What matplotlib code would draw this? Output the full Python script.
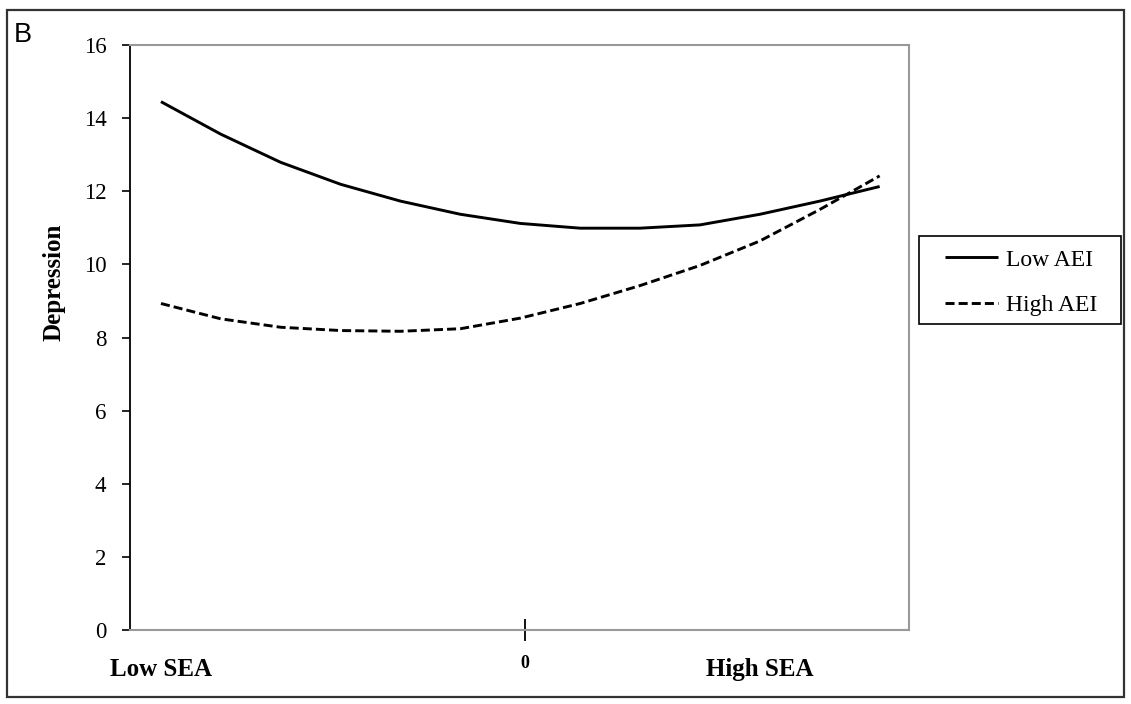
import matplotlib
matplotlib.use('Agg')
import matplotlib.pyplot as plt
from matplotlib.patches import Rectangle

# SEA levels from low to high (13 plotted points)
sea = [0, 1, 2, 3, 4, 5, 6, 7, 8, 9, 10, 11, 12]
low_aei = [14.45, 13.56, 12.79, 12.19, 11.73, 11.37, 11.12, 10.99, 10.99, 11.08, 11.37, 11.73, 12.13]
high_aei = [8.93, 8.51, 8.28, 8.19, 8.17, 8.24, 8.53, 8.93, 9.42, 9.97, 10.64, 11.50, 12.42]

x_labels = ['Low SEA', 'High SEA']
x_label_pos = [0, 10]
y_ticks = [0, 2, 4, 6, 8, 10, 12, 14, 16]

W, H = 1131, 704
fig = plt.figure(figsize=(W / 100, H / 100), dpi=100)
ax = fig.add_axes([130 / W, 1 - 630 / H, 779 / W, 585 / H])

serif = 'Liberation Serif'

l1, = ax.plot(sea, low_aei, color='black', lw=2.1, solid_capstyle='butt')
l2, = ax.plot(sea, high_aei, color='black', lw=2.1, dashes=(3.1, 1.4))

ax.set_xlim(-0.517, 12.49)
ax.set_ylim(0, 16)

# spines
for s in ['top', 'right', 'bottom']:
    ax.spines[s].set_color('#999999')
    ax.spines[s].set_linewidth(1.5)
ax.spines['left'].set_color('black')
ax.spines['left'].set_linewidth(1.3)

# y ticks
ax.set_yticks(y_ticks)
ax.set_yticklabels([str(v) for v in y_ticks], family=serif, fontsize=16.5)
ax.tick_params(axis='y', direction='out', length=6, width=1.2, pad=11, color='black')

# x: labels without marks + one crossing tick at 0
ax.set_xticks(x_label_pos)
ax.set_xticklabels(x_labels, family=serif, fontsize=18, fontweight='bold')
ax.tick_params(axis='x', which='major', length=0, pad=20)
ax.set_xticks([6.08], minor=True)
ax.set_xticklabels(['0'], minor=True, family=serif, fontsize=13, fontweight='bold')
ax.tick_params(axis='x', which='minor', direction='inout', length=16, width=1.3,
               color='black', pad=10)

fig.text(54 / W, 1 - 282.5 / H, 'Depression', rotation=90, ha='center', va='center',
         family=serif, fontsize=18, fontweight='bold')

fig.text(14 / W, 1 - 42 / H, 'B', family='Liberation Sans', fontsize=19.5,
         ha='left', va='baseline')

# legend
leg = fig.legend([l1, l2], ['Low AEI', 'High AEI'], loc='upper left',
                 bbox_to_anchor=(945 / W, 1 - 249 / H), bbox_transform=fig.transFigure,
                 frameon=False, borderpad=0, borderaxespad=0,
                 handlelength=2.25, handletextpad=0.34, labelspacing=1.02,
                 prop={'family': serif, 'size': 17})
fig.patches.append(Rectangle((919 / W, 1 - 324 / H), 202 / W, 88 / H,
                             transform=fig.transFigure, fill=False,
                             edgecolor='black', linewidth=1.2))

# outer frame
fig.patches.append(Rectangle((7 / W, 1 - 697 / H), 1117 / W, 687 / H,
                             transform=fig.transFigure, fill=False,
                             edgecolor='#333333', linewidth=1.6))

fig.savefig('out.png', dpi=100)
